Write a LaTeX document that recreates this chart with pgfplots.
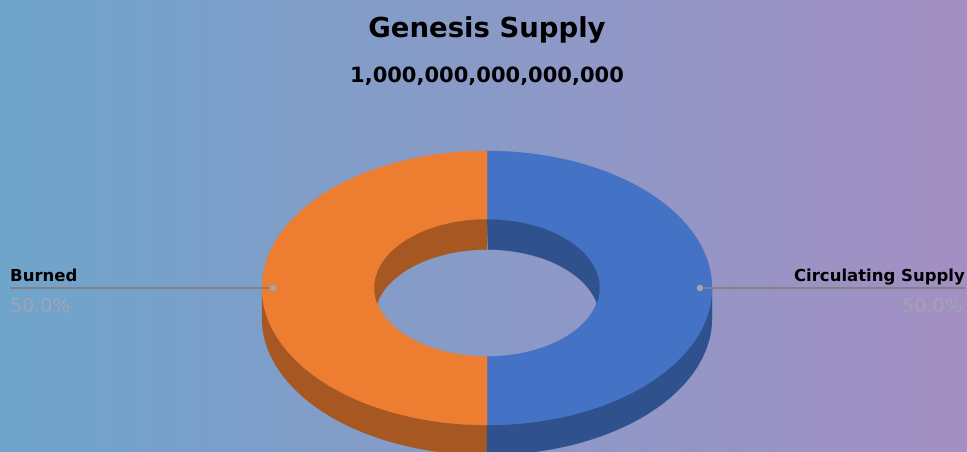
\documentclass[border=0pt]{standalone}
\usepackage{pgfplots}
\pgfplotsset{compat=1.18}
\usepackage{pgfplotstable}
\usepackage{fontspec}
\setmainfont{DejaVu Sans}
\definecolor{bgL}{RGB}{111,165,203}
\definecolor{bgR}{RGB}{164,143,195}
\definecolor{cOr}{RGB}{237,125,49}
\definecolor{cBl}{RGB}{68,114,196}
\definecolor{cOrD}{RGB}{166,87,34}
\definecolor{cBlD}{RGB}{47,82,143}
\definecolor{pctgray}{RGB}{160,164,180}
\definecolor{leadgray}{RGB}{130,130,136}
\definecolor{dotgray}{RGB}{165,165,168}

% data: slices, clockwise from 12 o'clock
\pgfplotstableread{
label value
Circulating 50
Burned 50
}\datatab
\pgfplotstablegetelem{0}{value}\of\datatab \let\vA\pgfplotsretval
\pgfplotstablegetelem{1}{value}\of\datatab \let\vB\pgfplotsretval
\pgfmathsetmacro\tot{\vA+\vB}
\pgfmathsetmacro\fA{\vA/\tot}
\pgfmathsetmacro\angS{90}
\pgfmathsetmacro\angM{90-360*\fA}
\pgfmathsetmacro\angMp{\angM+360}
% geometry (px)
\def\cx{487}\def\cy{163}\def\RA{225}\def\RB{137}\def\ra{112.5}\def\rb{68.5}\def\dd{30}
\pgfmathsetmacro\alp{asin(\dd/(2*\rb))}
\pgfmathsetmacro\wA{180+\alp}
\pgfmathsetmacro\wB{180-\alp}
\pgfmathsetmacro\wC{-\alp}

% ring sector on top face: outer arc, radial edge, inner arc back
\newcommand\ring[3]{%
\addplot[draw=#1,line width=0.3pt,fill=#1,domain=0:3,samples=361,variable=\t]
 ({\cx + (\t<=1 ? \RA : (\t<=2 ? \RA+(\t-1)*(\ra-\RA) : \ra))*cos(\t<=1 ? #2+\t*(#3-#2) : (\t<=2 ? #3 : #3+(\t-2)*(#2-#3)))},
  {\cy + (\t<=1 ? \RB : (\t<=2 ? \RB+(\t-1)*(\rb-\RB) : \rb))*sin(\t<=1 ? #2+\t*(#3-#2) : (\t<=2 ? #3 : #3+(\t-2)*(#2-#3)))}) -- cycle;}
% outer side wall: top arc, vertical edge, bottom arc back
\newcommand\side[3]{%
\addplot[draw=#1,line width=0.3pt,fill=#1,domain=0:3,samples=361,variable=\t]
 ({\cx + \RA*cos(\t<=1 ? #2+\t*(#3-#2) : (\t<=2 ? #3 : #3+(\t-2)*(#2-#3)))},
  {\cy - (\t<=1 ? 0 : (\t<=2 ? (\t-1)*\dd : \dd)) + \RB*sin(\t<=1 ? #2+\t*(#3-#2) : (\t<=2 ? #3 : #3+(\t-2)*(#2-#3)))}) -- cycle;}
% inner back wall: upper inner rim, then lower rim back
\newcommand\wall[5]{%
\addplot[draw=#1,line width=0.3pt,fill=#1,domain=0:2,samples=241,variable=\t]
 ({\cx + \ra*cos(\t<=1 ? #2+\t*(#3-#2) : #4+(\t-1)*(#5-#4))},
  {\cy - (\t<=1 ? 0 : \dd) + \rb*sin(\t<=1 ? #2+\t*(#3-#2) : #4+(\t-1)*(#5-#4))}) -- cycle;}

\begin{document}
\begin{tikzpicture}
\shade[left color=bgL,right color=bgR] (0,0) rectangle (967pt,451pt);
\begin{axis}[at={(0pt,0pt)},anchor=south west,scale only axis,
  width=967pt,height=451pt,xmin=0,xmax=967,ymin=0,ymax=451,hide axis]
% outer front side walls
\side{cOrD}{180}{\angMp}
\side{cBlD}{\angM}{0}
% top face
\ring{cBl}{\angS}{\angM}
\ring{cOr}{\angMp}{\angS}
% inner back wall
\wall{cOrD}{90}{\wA}{\wB}{90}
\wall{cBlD}{\wC}{90}{90}{\alp}
% leader lines and dots
\addplot[leadgray,line width=1.1pt] coordinates {(10,163) (273,163)};
\addplot[leadgray,line width=1.1pt] coordinates {(700,163) (965,163)};
\addplot[only marks,mark=*,mark size=3pt,dotgray] coordinates {(273,163) (700,163)};
% texts
\node[anchor=base,inner sep=0pt,font=\bfseries\fontsize{27.5}{27.5}\selectfont] at (axis cs:487,414) {Genesis Supply};
\node[anchor=base,inner sep=0pt,font=\bfseries\fontsize{21}{21}\selectfont] at (axis cs:487,369) {1,000,000,000,000,000};
\node[anchor=base west,inner sep=0pt,font=\bfseries\fontsize{16.5}{16.5}\selectfont] at (axis cs:10,170) {Burned};
\node[anchor=base west,inner sep=0pt,text=pctgray,font=\fontsize{19}{19}\selectfont] at (axis cs:10,139) {50.0\%};
\node[anchor=base east,inner sep=0pt,font=\bfseries\fontsize{16.5}{16.5}\selectfont] at (axis cs:965,170) {Circulating Supply};
\node[anchor=base east,inner sep=0pt,text=pctgray,font=\fontsize{19}{19}\selectfont] at (axis cs:963,139) {50.0\%};
\end{axis}
\end{tikzpicture}
\end{document}
